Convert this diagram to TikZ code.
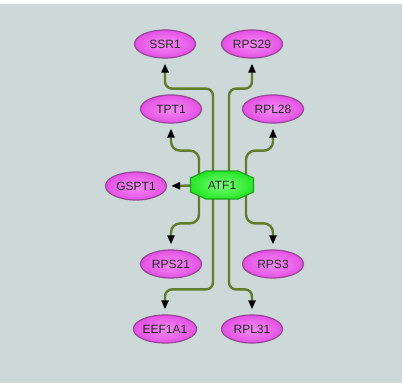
\documentclass[tikz,border=0pt]{standalone}
\usepackage{fontspec}
\setmainfont{Liberation Sans}
\usetikzlibrary{arrows.meta,calc,shapes.geometric}
\definecolor{bgc}{RGB}{205,216,216}
\definecolor{genefill}{RGB}{228,80,228}
\definecolor{geneinner}{RGB}{246,140,246}
\definecolor{geneline}{RGB}{150,70,150}
\definecolor{hubfill}{RGB}{40,232,40}
\definecolor{hubinner}{RGB}{120,255,120}
\definecolor{hubline}{RGB}{30,160,30}
\definecolor{linkc}{RGB}{95,125,45}
\pgfdeclarelayer{bg}
\pgfdeclarelayer{links}
\pgfdeclarelayer{hubs}
\pgfsetlayers{bg,links,hubs,main}
\begin{document}
\begin{tikzpicture}[x=1pt,y=-1pt,
  gene/.style={ellipse, draw=geneline, line width=1.2pt, inner color=geneinner,
    outer color=genefill, minimum width=61pt, minimum height=28pt, inner sep=0pt,
    font=\fontsize{12}{14}\selectfont, text=black!85},
  hub/.style={rectangle, minimum width=63pt, minimum height=28pt, inner sep=0pt,
    font=\fontsize{12}{14}\selectfont, text=black!85},
  link/.style={draw=linkc, line width=2.4pt, rounded corners=7pt,
    -{Triangle[length=9pt,width=7pt,color=black]}, shorten >=5pt},
]
% canvas
\begin{pgfonlayer}{bg}
  \fill[white] (0,0) rectangle (404,383);
  \fill[bgc] (0,4) rectangle (402,383);
\end{pgfonlayer}
\useasboundingbox (0,0) rectangle (404,383);

% hub and target genes
\node[hub] (atf) at (222,185) {ATF1};
\node[gene] (ssr1)   at (165,44)  {SSR1};
\node[gene] (rps29)  at (252,44)  {RPS29};
\node[gene] (tpt1)   at (171,109) {TPT1};
\node[gene] (rpl28)  at (273,109) {RPL28};
\node[gene] (gspt1)  at (136,186) {GSPT1};
\node[gene] (rps21)  at (171,264) {RPS21};
\node[gene] (rps3)   at (273,264) {RPS3};
\node[gene] (eef1a1) at (165,329) {EEF1A1};
\node[gene] (rpl31)  at (252,329) {RPL31};

% octagonal hub outline
\begin{pgfonlayer}{hubs}
  \draw[draw=hubline, line width=1.2pt, inner color=hubinner, outer color=hubfill]
    ($(atf.center)+(-16,-14)$) -- ($(atf.center)+(16,-14)$)
    -- ($(atf.center)+(31.5,-7)$) -- ($(atf.center)+(31.5,7)$)
    -- ($(atf.center)+(16,14)$) -- ($(atf.center)+(-16,14)$)
    -- ($(atf.center)+(-31.5,7)$) -- ($(atf.center)+(-31.5,-7)$) -- cycle;
\end{pgfonlayer}

% regulatory links
\begin{pgfonlayer}{links}
  \draw[link] ($(atf.center)+(-9,-10)$) |- ($(ssr1.south)+(0,30)$) -- (ssr1.south);
  \draw[link] ($(atf.center)+(7,-10)$) |- ($(rps29.south)+(0,30)$) -- (rps29.south);
  \draw[link, rounded corners=9pt] ($(atf.center)+(-23,-8)$) |- ($(tpt1.south)+(0,27)$) -- (tpt1.south);
  \draw[link, rounded corners=9pt] ($(atf.center)+(24,-8)$) |- ($(rpl28.south)+(0,27)$) -- (rpl28.south);
  \draw[link, shorten >=4pt] (atf.center) -- (gspt1.east);
  \draw[link, rounded corners=9pt] ($(atf.center)+(-23,8)$) |- ($(rps21.north)+(0,-26)$) -- (rps21.north);
  \draw[link, rounded corners=9pt] ($(atf.center)+(24,8)$) |- ($(rps3.north)+(0,-26)$) -- (rps3.north);
  \draw[link] ($(atf.center)+(-9,10)$) |- ($(eef1a1.north)+(0,-25)$) -- (eef1a1.north);
  \draw[link] ($(atf.center)+(7,10)$) |- ($(rpl31.north)+(0,-25)$) -- (rpl31.north);
\end{pgfonlayer}
\end{tikzpicture}
\end{document}
